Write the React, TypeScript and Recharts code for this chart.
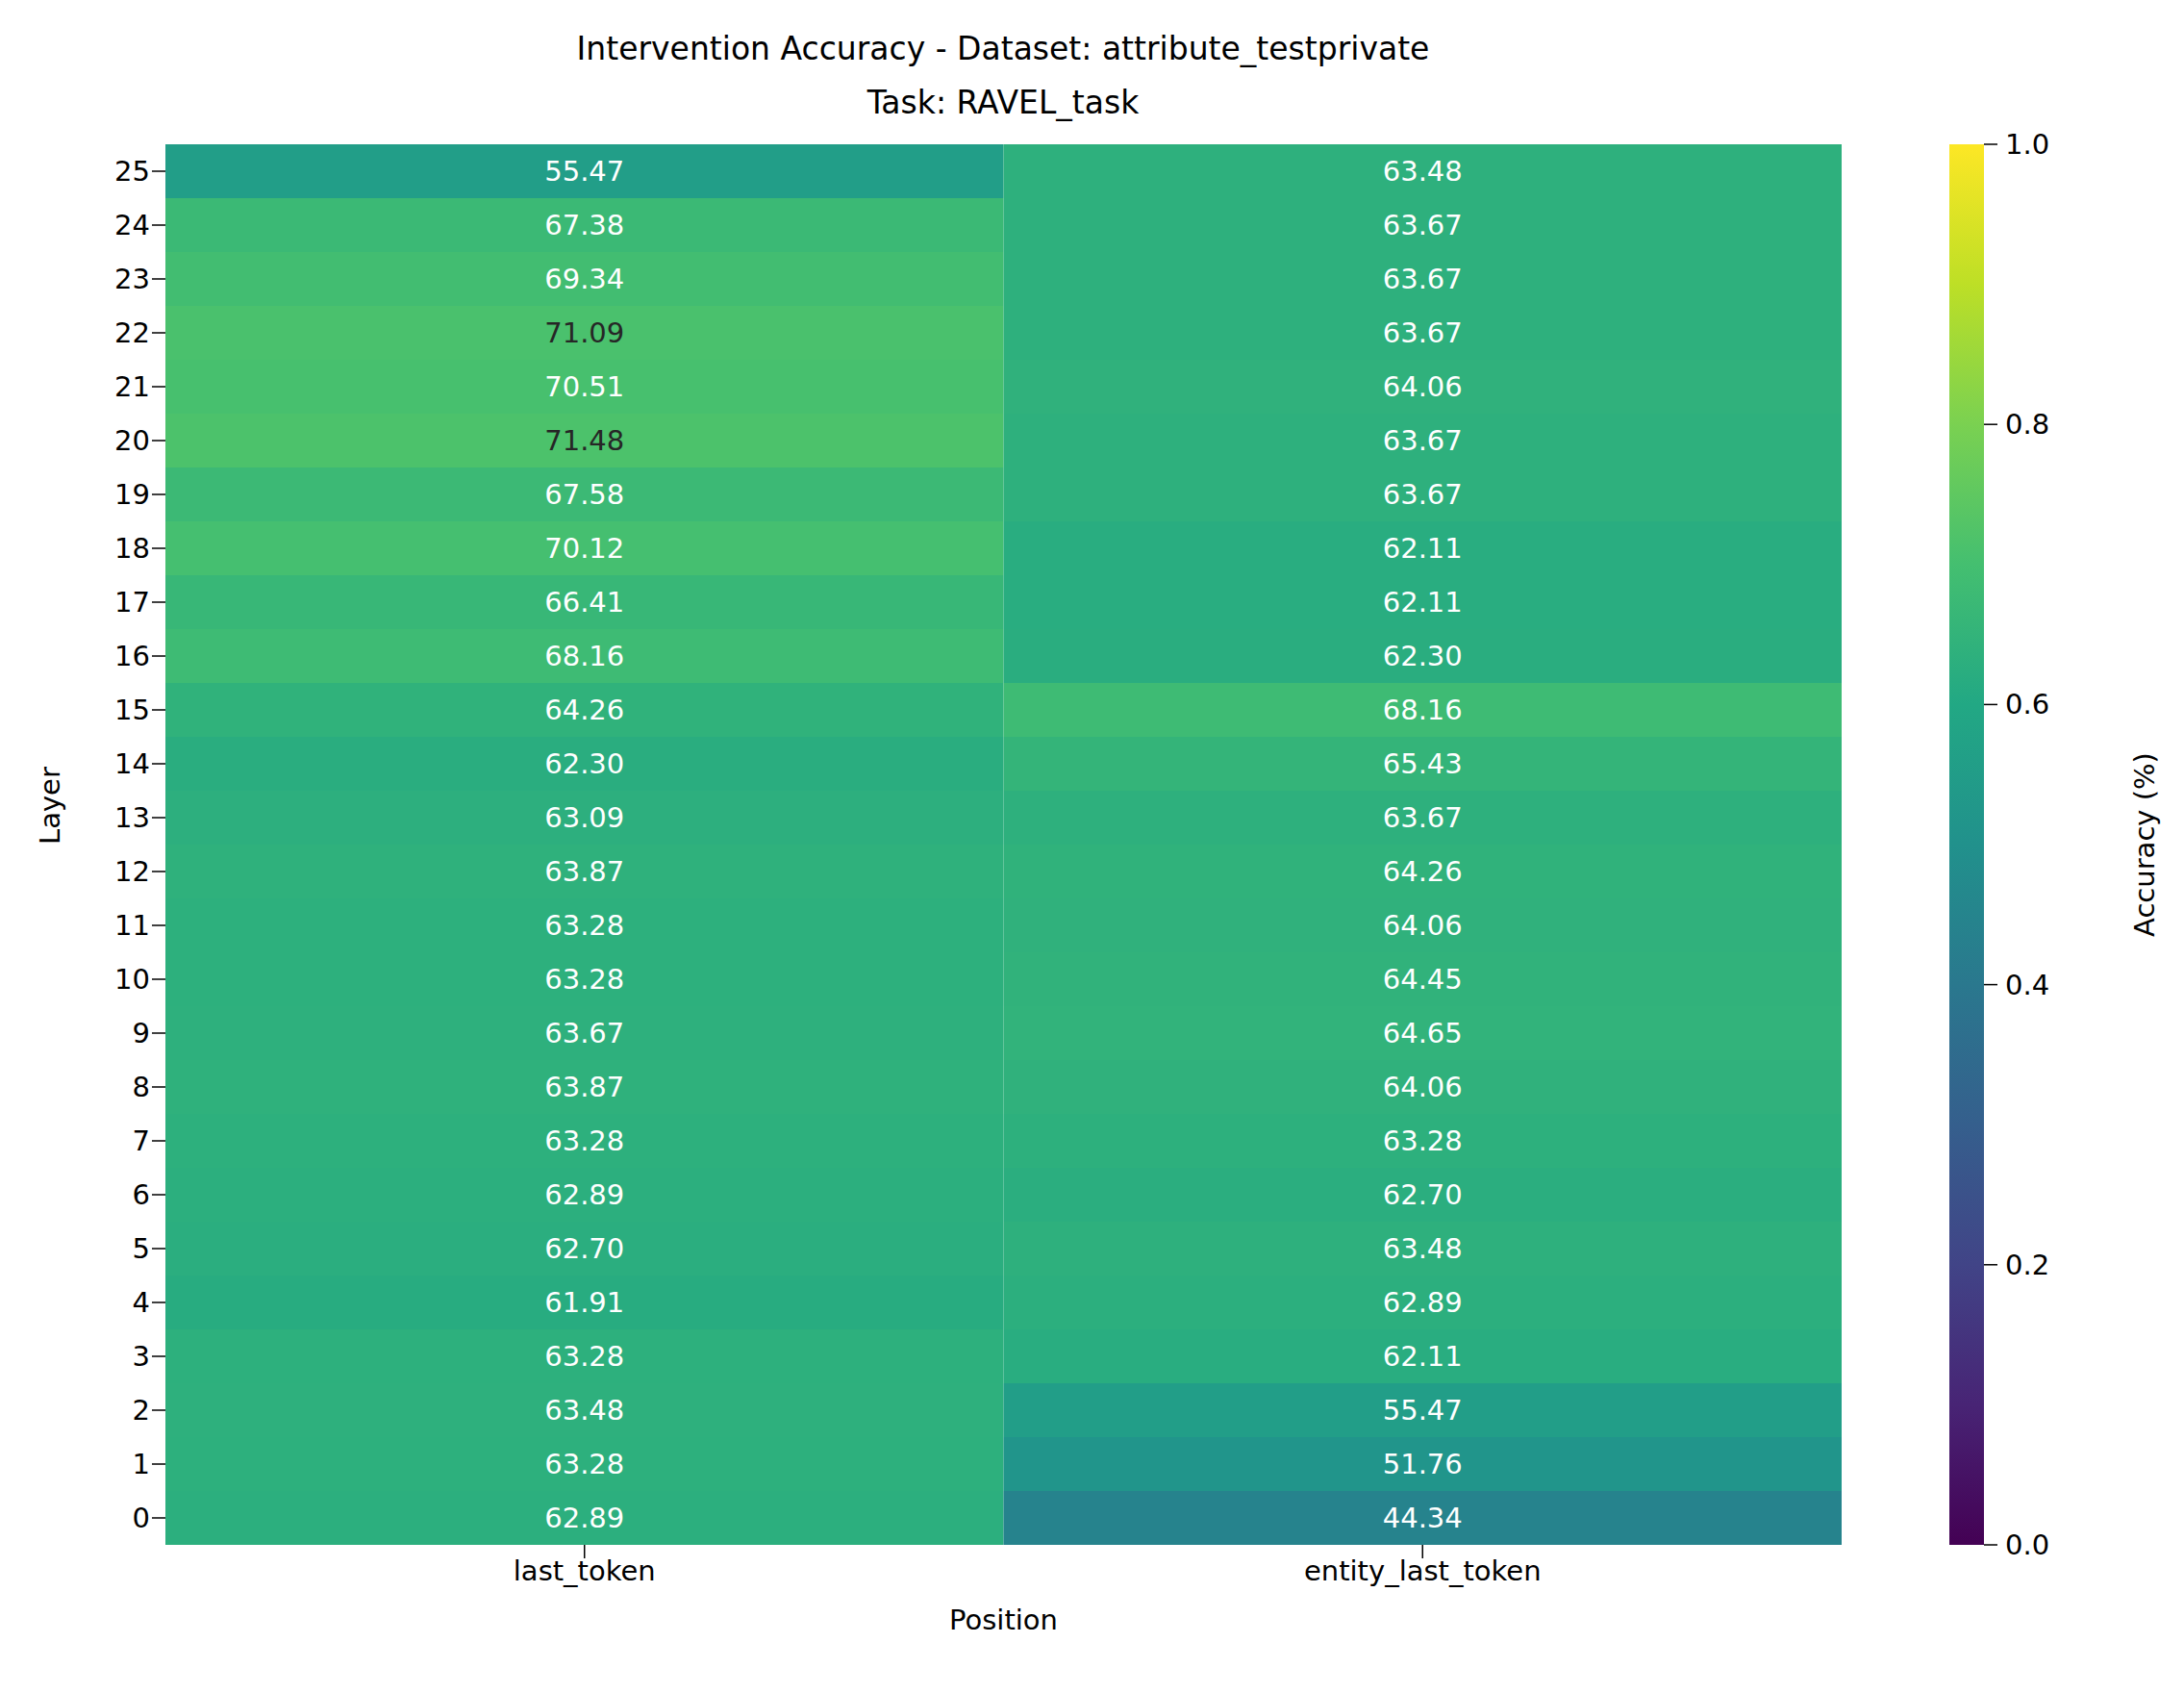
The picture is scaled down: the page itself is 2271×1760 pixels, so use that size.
import React from 'react';
import { BarChart, Bar, XAxis, YAxis, Cell, LabelList } from 'recharts';

const layers = Array.from({ length: 26 }, (_, i) => i);
const positions = ['last_token', 'entity_last_token'];
const lastToken = [62.89, 63.28, 63.48, 63.28, 61.91, 62.7, 62.89, 63.28, 63.87, 63.67, 63.28, 63.28, 63.87, 63.09, 62.3, 64.26, 68.16, 66.41, 70.12, 67.58, 71.48, 70.51, 71.09, 69.34, 67.38, 55.47];
const entityLastToken = [44.34, 51.76, 55.47, 62.11, 62.89, 63.48, 62.7, 63.28, 64.06, 64.65, 64.45, 64.06, 64.26, 63.67, 65.43, 68.16, 62.3, 62.11, 62.11, 63.67, 63.67, 64.06, 63.67, 63.67, 63.67, 63.48];
const cbTicks = [0, 0.2, 0.4, 0.6, 0.8, 1.0];

const VIRIDIS = ['#440154', '#482475', '#414487', '#355f8d', '#2a788e', '#21918c', '#22a884', '#44bf70', '#7ad151', '#bddf26', '#fde725'];

function hex(h: string) {
  return [1, 3, 5].map((i) => parseInt(h.slice(i, i + 2), 16));
}
function viridis(t: number) {
  const s = Math.max(0, Math.min(1, t)) * 10;
  const i = Math.min(9, Math.floor(s));
  const f = s - i;
  const a = hex(VIRIDIS[i]);
  const b = hex(VIRIDIS[i + 1]);
  const c = a.map((v, k) => Math.round(v + (b[k] - v) * f));
  return `rgb(${c[0]},${c[1]},${c[2]})`;
}

const data = layers
  .slice()
  .reverse()
  .map((l) => ({ layer: String(l), one: 1, two: 1, a: lastToken[l], b: entityLastToken[l] }));

const FONT = 'DejaVu Sans, sans-serif';
const FS = 29;

const cellLabel = (props: any) => {
  const { x, y, width, height, value } = props;
  const fill = value / 100 > 0.708 ? '#262626' : '#ffffff';
  return (
    <text x={x + width / 2} y={y + height / 2} textAnchor="middle" dominantBaseline="central" fontSize={FS} fontFamily={FONT} fill={fill}>
      {Number(value).toFixed(2)}
    </text>
  );
};

const PLOT_TOP = 150;
const PLOT_BOTTOM = 1606;

export default function App() {
  const cbX = 2027;
  const cbW = 36;
  const cbH = PLOT_BOTTOM - PLOT_TOP;
  return (
    <div style={{ position: 'absolute', left: 0, top: 0, width: 2271, height: 1760, background: '#fff', fontFamily: FONT }}>
      <BarChart
        width={2271}
        height={1760}
        data={data}
        layout="vertical"
        barCategoryGap={0}
        margin={{ top: PLOT_TOP, left: 92, right: 356, bottom: 74 }}
      >
        <XAxis
          type="number"
          domain={[0, 2]}
          ticks={[0.5, 1.5]}
          tickFormatter={(v: number) => positions[Math.floor(v)]}
          axisLine={false}
          tickSize={14}
          tickLine={{ stroke: '#000', strokeWidth: 1.5 }}
          tick={{ fontSize: FS, fontFamily: FONT, fill: '#000' }}
          height={80}
          label={{ value: 'Position', position: 'insideBottom', offset: -8, fontSize: FS, fontFamily: FONT, fill: '#000' }}
        />
        <YAxis
          type="category"
          dataKey="layer"
          width={80}
          axisLine={false}
          tickSize={14}
          tickLine={{ stroke: '#000', strokeWidth: 1.5 }}
          tick={{ fontSize: FS, fontFamily: FONT, fill: '#000' }}
          interval={0}
          label={{ value: 'Layer', angle: -90, position: 'insideLeft', offset: -40, fontSize: FS, fontFamily: FONT, fill: '#000' }}
        />
        <Bar dataKey="one" stackId="s" isAnimationActive={false}>
          {data.map((d, i) => (
            <Cell key={i} fill={viridis(d.a / 100)} />
          ))}
          <LabelList dataKey="a" content={cellLabel} />
        </Bar>
        <Bar dataKey="two" stackId="s" isAnimationActive={false}>
          {data.map((d, i) => (
            <Cell key={i} fill={viridis(d.b / 100)} />
          ))}
          <LabelList dataKey="b" content={cellLabel} />
        </Bar>
      </BarChart>
      <svg width={2271} height={1760} style={{ position: 'absolute', left: 0, top: 0, pointerEvents: 'none' }}>
        <text x={1043} y={62} textAnchor="middle" fontSize={33} fontFamily={FONT} fill="#000">
          Intervention Accuracy - Dataset: attribute_testprivate
        </text>
        <text x={1043} y={118} textAnchor="middle" fontSize={33} fontFamily={FONT} fill="#000">
          Task: RAVEL_task
        </text>
        <defs>
          <linearGradient id="cb" x1="0" y1="1" x2="0" y2="0">
            {VIRIDIS.map((c, i) => (
              <stop key={i} offset={`${i * 10}%`} stopColor={c} />
            ))}
          </linearGradient>
        </defs>
        <rect x={cbX} y={PLOT_TOP} width={cbW} height={cbH} fill="url(#cb)" />
        {cbTicks.map((t) => {
          const y = PLOT_BOTTOM - t * cbH;
          return (
            <g key={t}>
              <line x1={cbX + cbW} x2={cbX + cbW + 14} y1={y} y2={y} stroke="#000" strokeWidth={1.5} />
              <text x={cbX + cbW + 22} y={y} dominantBaseline="central" fontSize={FS} fontFamily={FONT} fill="#000">
                {t.toFixed(1)}
              </text>
            </g>
          );
        })}
        <text
          x={2230}
          y={(PLOT_TOP + PLOT_BOTTOM) / 2}
          textAnchor="middle"
          dominantBaseline="central"
          transform={`rotate(-90 2230 ${(PLOT_TOP + PLOT_BOTTOM) / 2})`}
          fontSize={FS}
          fontFamily={FONT}
          fill="#000"
        >
          Accuracy (%)
        </text>
      </svg>
    </div>
  );
}
